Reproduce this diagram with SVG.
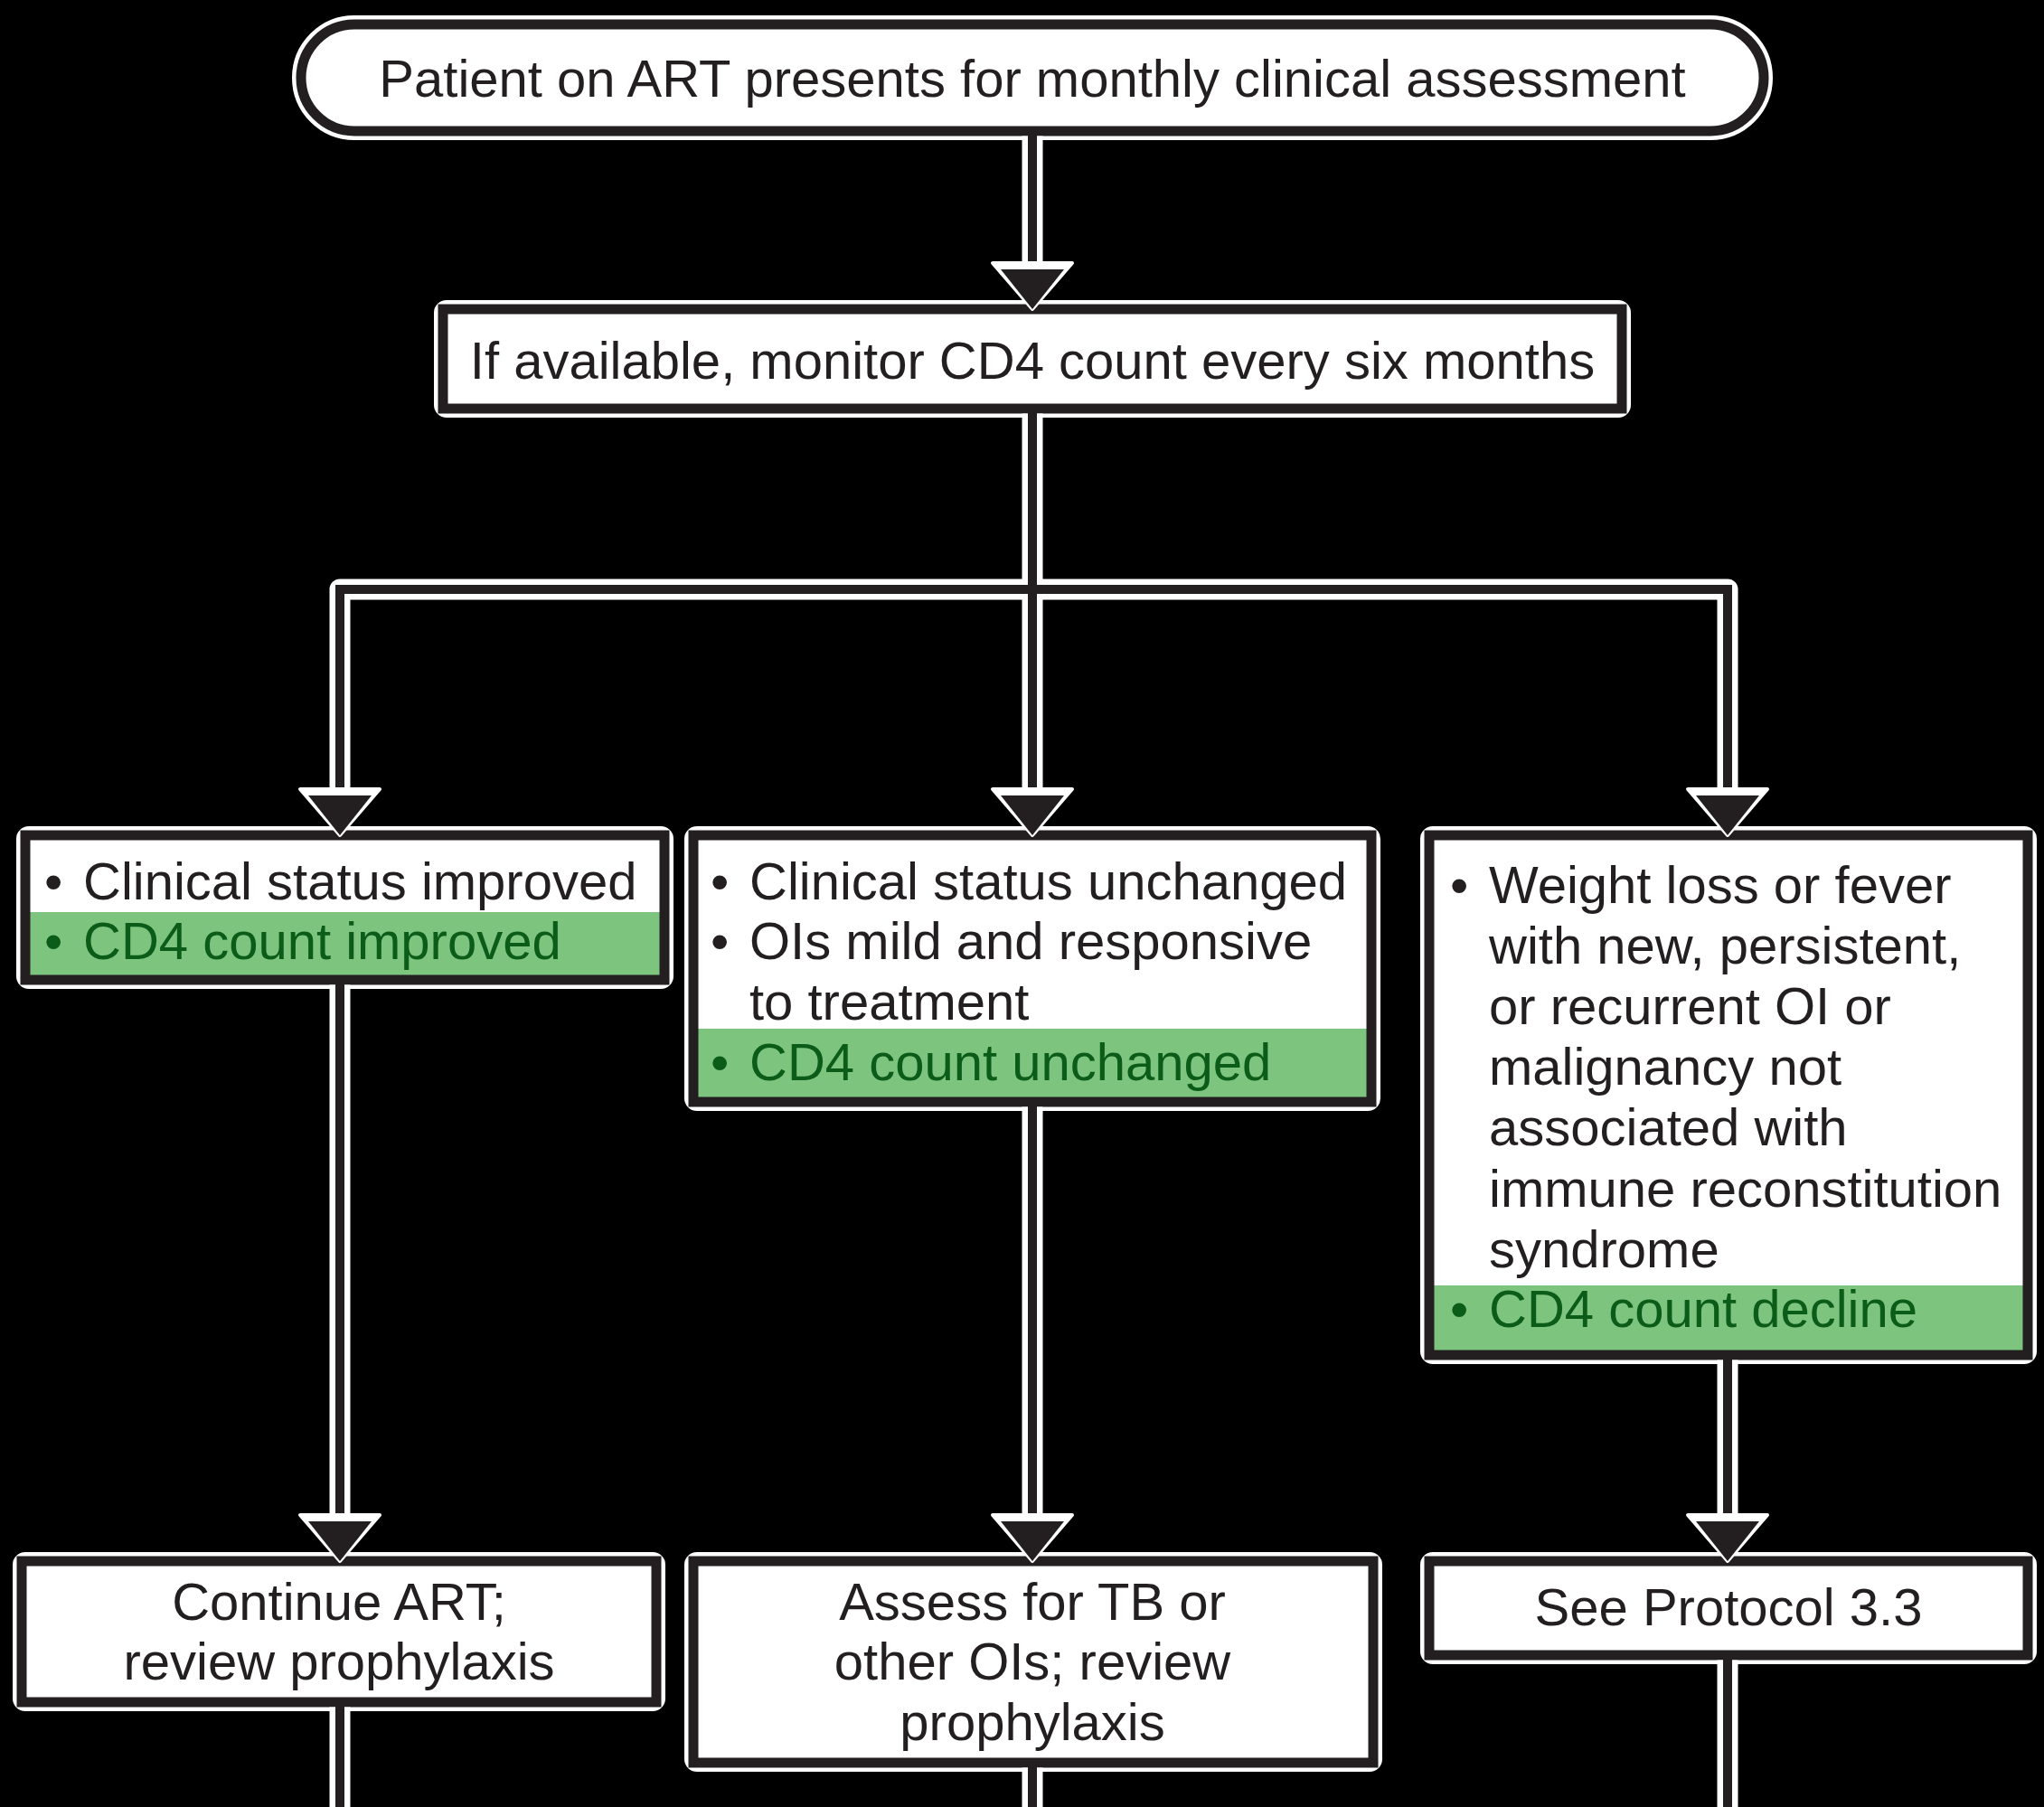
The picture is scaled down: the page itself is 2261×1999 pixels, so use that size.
<svg xmlns="http://www.w3.org/2000/svg" width="2261" height="1999" viewBox="0 0 2261 1999">
<defs>
<style>
.halo{fill:none;stroke:#fff;stroke-width:20;stroke-linejoin:round}
.fillw{fill:#fff}
.edge{fill:none;stroke:#231f20;stroke-width:11}
.band{fill:#7dc47f}
.t{font-family:"Liberation Sans",Arial,Helvetica,sans-serif;font-size:58px;fill:#231f20}
.c{text-anchor:middle}
.g{fill:#0b5c18}
.lh{fill:none;stroke:#fff;stroke-width:23;stroke-linejoin:round}
.ld{fill:none;stroke:#231f20;stroke-width:10}
.ah{fill:#fff;stroke:#fff;stroke-width:4;stroke-linejoin:round}
.ad{fill:#231f20}
</style>
</defs>
<rect x="0" y="0" width="2261" height="1999" fill="#000"/>

<g id="node-start">
<rect class="halo" x="333" y="27" width="1618" height="118" rx="59"/>
<rect class="fillw" x="333" y="27" width="1618" height="118" rx="59"/>
<rect class="edge" x="333" y="27" width="1618" height="118" rx="59"/>
<text class="t c" x="1142" y="107">Patient on ART presents for monthly clinical assessment</text>
</g>

<g id="node-monitor">
<rect class="halo" x="490" y="342" width="1304" height="110" rx="4"/>
<rect class="fillw" x="490" y="342" width="1304" height="110"/>
<rect class="edge" x="490" y="342" width="1304" height="110"/>
<text class="t c" x="1142" y="419">If available, monitor CD4 count every six months</text>
</g>

<g id="node-improved">
<rect class="halo" x="28" y="924" width="707" height="160" rx="4"/>
<rect class="fillw" x="28" y="924" width="707" height="160"/>
<rect class="band" x="33" y="1009" width="697" height="70"/>
<rect class="edge" x="28" y="924" width="707" height="160"/>
<text class="t" x="49" y="995">•</text>
<text class="t" x="92" y="995">Clinical status improved</text>
<text class="t g" x="49" y="1061">•</text>
<text class="t g" x="92" y="1061">CD4 count improved</text>
</g>

<g id="node-unchanged">
<rect class="halo" x="767" y="924" width="750" height="295" rx="4"/>
<rect class="fillw" x="767" y="924" width="750" height="295"/>
<rect class="band" x="772" y="1138" width="740" height="76"/>
<rect class="edge" x="767" y="924" width="750" height="295"/>
<text class="t" x="786" y="995">•</text>
<text class="t" x="829" y="995">Clinical status unchanged</text>
<text class="t" x="786" y="1061">•</text>
<text class="t" x="829" y="1061">OIs mild and responsive</text>
<text class="t" x="829" y="1128">to treatment</text>
<text class="t g" x="786" y="1195">•</text>
<text class="t g" x="829" y="1195">CD4 count unchanged</text>
</g>

<g id="node-decline">
<rect class="halo" x="1581" y="924" width="662" height="575" rx="4"/>
<rect class="fillw" x="1581" y="924" width="662" height="575"/>
<rect class="band" x="1586" y="1422" width="652" height="72"/>
<rect class="edge" x="1581" y="924" width="662" height="575"/>
<text class="t" x="1604" y="999">•</text>
<text class="t" x="1647" y="999">Weight loss or fever</text>
<text class="t" x="1647" y="1066">with new, persistent,</text>
<text class="t" x="1647" y="1133">or recurrent OI or</text>
<text class="t" x="1647" y="1200">malignancy not</text>
<text class="t" x="1647" y="1267">associated with</text>
<text class="t" x="1647" y="1335">immune reconstitution</text>
<text class="t" x="1647" y="1402">syndrome</text>
<text class="t g" x="1604" y="1468">•</text>
<text class="t g" x="1647" y="1468">CD4 count decline</text>
</g>

<g id="node-continue">
<rect class="halo" x="24" y="1727" width="702" height="156" rx="4"/>
<rect class="fillw" x="24" y="1727" width="702" height="156"/>
<rect class="edge" x="24" y="1727" width="702" height="156"/>
<text class="t c" x="375" y="1792">Continue ART;</text>
<text class="t c" x="375" y="1858">review prophylaxis</text>
</g>

<g id="node-assess">
<rect class="halo" x="767" y="1727" width="752" height="223" rx="4"/>
<rect class="fillw" x="767" y="1727" width="752" height="223"/>
<rect class="edge" x="767" y="1727" width="752" height="223"/>
<text class="t c" x="1142" y="1792">Assess for TB or</text>
<text class="t c" x="1142" y="1858">other OIs; review</text>
<text class="t c" x="1142" y="1925">prophylaxis</text>
</g>

<g id="node-protocol">
<rect class="halo" x="1581" y="1727" width="662" height="104" rx="4"/>
<rect class="fillw" x="1581" y="1727" width="662" height="104"/>
<rect class="edge" x="1581" y="1727" width="662" height="104"/>
<text class="t c" x="1912" y="1798">See Protocol 3.3</text>
</g>

<g id="connectors">
<path class="lh" d="M1142,150.5 V300 M1142,457.5 V880 M376,880 V652 H1911 V880 M376,1089.5 V1690 M1142,1224.5 V1690 M1911,1504.5 V1690 M376,1888.5 V2010 M1142,1955.5 V2010 M1911,1836.5 V2010"/>
<path class="ld" d="M1142,145 V300 M1142,452 V880 M376,880 V652 H1911 V880 M376,1084 V1690 M1142,1219 V1690 M1911,1499 V1690 M376,1883 V2010 M1142,1950 V2010 M1911,1831 V2010"/>
<g id="arrowheads">
<polygon class="ah" points="1098,291 1186,291 1142,342"/>
<polygon class="ad" points="1107,298 1177,298 1142,342"/>
<polygon class="ah" points="332,873 420,873 376,924"/>
<polygon class="ad" points="341,880 411,880 376,924"/>
<polygon class="ah" points="1098,873 1186,873 1142,924"/>
<polygon class="ad" points="1107,880 1177,880 1142,924"/>
<polygon class="ah" points="1867,873 1955,873 1911,924"/>
<polygon class="ad" points="1876,880 1946,880 1911,924"/>
<polygon class="ah" points="332,1676 420,1676 376,1727"/>
<polygon class="ad" points="341,1683 411,1683 376,1727"/>
<polygon class="ah" points="1098,1676 1186,1676 1142,1727"/>
<polygon class="ad" points="1107,1683 1177,1683 1142,1727"/>
<polygon class="ah" points="1867,1676 1955,1676 1911,1727"/>
<polygon class="ad" points="1876,1683 1946,1683 1911,1727"/>
</g>
</g>
</svg>
